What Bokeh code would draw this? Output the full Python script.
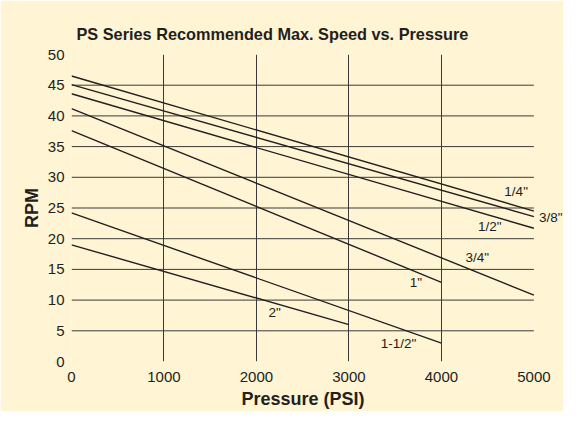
from bokeh.plotting import figure
from bokeh.models import Range1d, FixedTicker, ColumnDataSource, LabelSet, Title
from bokeh.core.properties import value
from bokeh.embed import file_html
from bokeh.resources import INLINE

# ---- data ----
sizes = ['1/4"', '3/8"', '1/2"', '3/4"', '1"', '1-1/2"', '2"']
start_psi = [0, 0, 0, 0, 0, 0, 0]
rpm_at_start = [46.5, 45.1, 43.6, 41.2, 37.6, 24.2, 19.0]
max_psi = [5000, 5000, 5000, 5000, 4000, 4000, 3000]
rpm_at_max = [24.5, 23.6, 21.7, 10.8, 12.9, 3.0, 6.0]

label_psi = [4808, 5183, 4522, 4387, 3725, 3536, 2198]
label_rpm = [27.75, 23.5, 22.05, 17.0, 12.8, 2.95, 7.9]

x_ticks = [0, 1000, 2000, 3000, 4000, 5000]
y_ticks = [0, 5, 10, 15, 20, 25, 30, 35, 40, 45, 50]
x_grid = [1000, 2000, 3000, 4000]
y_grid = [5, 10, 15, 20, 25, 30, 35, 40, 45]

CREAM = "#FFF4D3"
INK = "#231F20"
GRID = "#3A3A3A"
FONT = "Liberation Sans"

p = figure(width=563, height=411, output_backend="svg", toolbar_location=None,
           x_range=Range1d(0, 5320), y_range=Range1d(0, 50),
           min_border_left=71, min_border_right=0, min_border_top=54, min_border_bottom=50,
           title="PS Series Recommended Max. Speed vs. Pressure")

p.background_fill_color = CREAM
p.border_fill_color = CREAM
p.outline_line_color = None

p.title.text_font = FONT
p.title.text_font_size = "16.3px"
p.title.text_font_style = "bold"
p.title.text_color = INK
p.title.align = "left"
p.title.offset = 5
p.title.standoff = 24

for ax in (p.xaxis[0], p.yaxis[0]):
    ax.axis_line_color = None
    ax.major_tick_line_color = None
    ax.minor_tick_line_color = None
    ax.major_tick_in = 0
    ax.major_tick_out = 0
    ax.major_label_text_font = FONT
    ax.major_label_text_font_size = "15px"
    ax.major_label_text_color = INK
    ax.axis_label_text_font = FONT
    ax.axis_label_text_font_size = "18px"
    ax.axis_label_text_font_style = "bold"
    ax.axis_label_text_color = INK

p.xaxis.ticker = FixedTicker(ticks=x_ticks)
p.yaxis.ticker = FixedTicker(ticks=y_ticks)
p.yaxis.axis_label = "RPM"
p.xaxis.major_label_standoff = 10
p.yaxis.major_label_standoff = 7
p.yaxis.axis_label_standoff = 3

# x-axis title, centred under the 0..5000 span
xlabel = Title(text="Pressure (PSI)", text_font=FONT, text_font_size="18px",
               text_font_style="bold", text_color=INK, align="left",
               offset=170, standoff=4)
p.add_layout(xlabel, "below")

p.xgrid.ticker = FixedTicker(ticks=x_grid)
p.xgrid.grid_line_color = GRID
p.xgrid.grid_line_width = 1
p.ygrid.grid_line_color = None

# horizontal grid lines stop at the last pressure tick
n = len(y_grid)
p.segment(x0=[x_ticks[0]] * n, x1=[x_ticks[-1]] * n, y0=y_grid, y1=y_grid,
          line_color=GRID, line_width=1)

xs = [[a, b] for a, b in zip(start_psi, max_psi)]
ys = [[a, b] for a, b in zip(rpm_at_start, rpm_at_max)]
p.multi_line(xs=xs, ys=ys, line_color=INK, line_width=1.4)

lab_src = ColumnDataSource(dict(x=label_psi, y=label_rpm, text=sizes))
labels = LabelSet(x="x", y="y", text="text", source=lab_src,
                  text_align="center", text_baseline="middle",
                  text_font=value(FONT), text_font_size=value("13.5px"), text_color=INK)
p.add_layout(labels)

open("out.html", "w").write(file_html(p, INLINE))
